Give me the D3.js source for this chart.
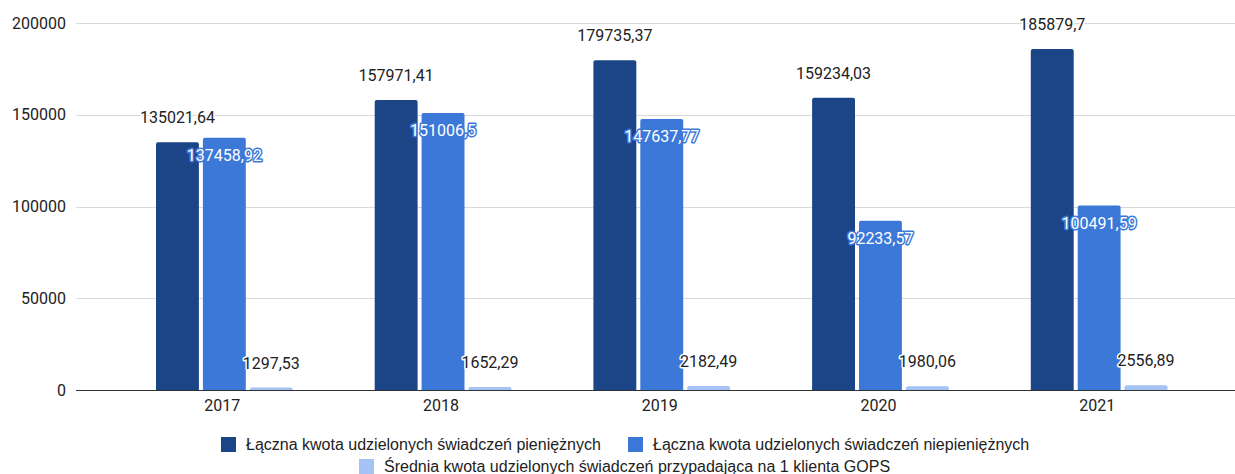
<!DOCTYPE html>
<html>
<head>
<meta charset="utf-8">
<script src="https://cdn.jsdelivr.net/npm/d3@7/dist/d3.min.js"></script>
<style>
  html, body { margin: 0; padding: 0; background: #fff; }
  svg { display: block; }
</style>
</head>
<body>
<svg id="chart" width="1235" height="474"></svg>
<script>
// Years on the category axis
const years = ["2017", "2018", "2019", "2020", "2021"];

// Series names (legend text)
const seriesNames = [
  "Łączna kwota udzielonych świadczeń pieniężnych",
  "Łączna kwota udzielonych świadczeń niepieniężnych",
  "Średnia kwota udzielonych świadczeń przypadająca na 1 klienta GOPS"
];

// Values per series, one per year
const cashBenefits    = [135021.64, 157971.41, 179735.37, 159234.03, 185879.7];
const nonCashBenefits = [137458.92, 151006.5, 147637.77, 92233.57, 100491.59];
const avgPerClient    = [1297.53, 1652.29, 2182.49, 1980.06, 2556.89];

// Value axis ticks
const yTicks = [0, 50000, 100000, 150000, 200000];

const seriesValues = [cashBenefits, nonCashBenefits, avgPerClient];
const colors = ["#1c4587", "#3c78d8", "#a4c2f4"];

const svg = d3.select("#chart");
const gridLeft = 76, gridRight = 1235;

const y = d3.scaleLinear().domain([0, 200000]).range([390, 23]);
const x0 = d3.scaleBand().domain(years).range([115, 1208.5]).padding(0);
const x1 = d3.scaleBand().domain(d3.range(3))
  .range([41, x0.bandwidth() - 41]).paddingInner(0.085).paddingOuter(0);

const fmt = v => String(v).replace(".", ",");

// Gridlines
svg.append("g").selectAll("line")
  .data(yTicks.filter(t => t !== 0))
  .join("line")
  .attr("x1", gridLeft).attr("x2", gridRight)
  .attr("y1", d => Math.round(y(d)) + 0.5).attr("y2", d => Math.round(y(d)) + 0.5)
  .attr("stroke", "#d9d9d9").attr("stroke-width", 1);

// Value axis labels
const yAxis = d3.axisLeft(y).tickValues(yTicks).tickSize(0).tickPadding(0)
  .tickFormat(d3.format("d"));
svg.append("g")
  .attr("transform", "translate(66,0)")
  .call(yAxis)
  .call(g => g.select(".domain").remove())
  .call(g => g.selectAll("text")
    .attr("font-family", "Roboto, sans-serif")
    .attr("font-size", 16)
    .attr("fill", "#222"));

// Bars with rounded top corners
function barPath(xp, w, top, bottom, r) {
  const h = bottom - top;
  r = Math.min(r, h, w / 2);
  return `M${xp},${bottom}V${top + r}Q${xp},${top} ${xp + r},${top}` +
         `H${xp + w - r}Q${xp + w},${top} ${xp + w},${top + r}V${bottom}Z`;
}

const rows = [];
years.forEach((yr, i) => {
  seriesValues.forEach((vals, s) => rows.push({ year: yr, s, v: vals[i] }));
});

svg.append("g").selectAll("path")
  .data(rows)
  .join("path")
  .attr("d", d => barPath(x0(d.year) + x1(d.s), x1.bandwidth(), y(d.v), y(0), 2))
  .attr("fill", d => colors[d.s]);

// Baseline
svg.append("line")
  .attr("x1", gridLeft).attr("x2", gridRight)
  .attr("y1", 390.5).attr("y2", 390.5)
  .attr("stroke", "#333").attr("stroke-width", 1);

// Category axis labels
const xAxis = d3.axisBottom(x0).tickSize(0).tickPadding(0);
svg.append("g")
  .attr("transform", "translate(-2,400)")
  .call(xAxis)
  .call(g => g.select(".domain").remove())
  .call(g => g.selectAll("text")
    .attr("font-family", "Roboto, sans-serif")
    .attr("font-size", 16)
    .attr("fill", "#222"));

// Value annotations
const labels = svg.append("g")
  .attr("font-family", "Roboto, sans-serif")
  .attr("font-size", 16)
  .attr("text-anchor", "middle");

labels.selectAll("text")
  .data(rows)
  .join("text")
  .attr("x", d => x0(d.year) + x1(d.s) + x1.bandwidth() / 2)
  .attr("y", d => d.s === 1 ? y(d.v) + 23 : y(d.v) - 19)
  .attr("fill", d => d.s === 1 ? "#ffffff" : "#222")
  .attr("stroke", d => d.s === 1 ? "#3c78d8" : "#ffffff")
  .attr("stroke-width", 3)
  .attr("stroke-linejoin", "round")
  .attr("paint-order", "stroke")
  .text(d => fmt(d.v));

// Legend
const legendItems = [
  { s: 0, x: 221, y: 437 },
  { s: 1, x: 628, y: 437 },
  { s: 2, x: 359, y: 459 }
];
const legend = svg.append("g");
legendItems.forEach(it => {
  legend.append("rect")
    .attr("x", it.x).attr("y", it.y)
    .attr("width", 15).attr("height", 15)
    .attr("fill", colors[it.s]);
  legend.append("text")
    .attr("x", it.x + 25).attr("y", it.y + 13)
    .attr("font-family", "Arial, 'Liberation Sans', sans-serif")
    .attr("font-size", 16)
    .attr("fill", "#222")
    .text(seriesNames[it.s]);
});
</script>
</body>
</html>
